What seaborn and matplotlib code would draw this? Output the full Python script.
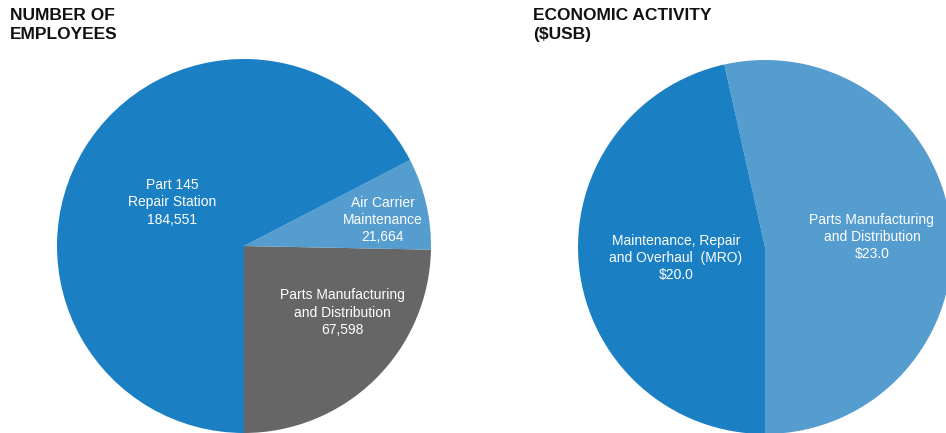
import numpy as np
import matplotlib
matplotlib.use("Agg")
import matplotlib.pyplot as plt
import seaborn as sns

sns.set_theme(style="white")
plt.rcParams['font.family'] = ['Liberation Sans', 'DejaVu Sans']

# Data
emp_labels = ["Parts Manufacturing\nand Distribution", "Air Carrier\nMaintenance", "Part 145\nRepair Station"]
emp_values = [67598, 21664, 184551]
emp_colors = ["#666666", "#559ccf", "#1a7fc3"]

eco_labels = ["Parts Manufacturing\nand Distribution", "Maintenance, Repair\nand Overhaul  (MRO)"]
eco_values = [23.0, 20.0]
eco_colors = ["#559ccf", "#1a7fc3"]

W, H = 946, 433
fig = plt.figure(figsize=(W / 100, H / 100), dpi=100)
fig.patch.set_facecolor("white")

def add_pie_axes(cx, cy, r):
    # cx, cy in pixels from top-left
    ax = fig.add_axes([(cx - r) / W, (H - cy - r) / H, 2 * r / W, 2 * r / H])
    ax.axis("off")
    return ax

def draw(ax, values, labels, colors, fmt, dists, shifts):
    wedges, _ = ax.pie(values, colors=colors, startangle=-90, counterclock=True,
                       radius=1.0, wedgeprops=dict(linewidth=0))
    ax.set_xlim(-1, 1)
    ax.set_ylim(-1, 1)
    ax.set_aspect("equal")
    for w, v, lab, d, s in zip(wedges, values, labels, dists, shifts):
        w.set_clip_on(False)
        ang = np.deg2rad((w.theta1 + w.theta2) / 2 + s)
        ax.text(d * np.cos(ang), d * np.sin(ang), lab + "\n" + fmt(v),
                ha="center", va="center", color="white", fontsize=10,
                linespacing=1.3)

ax1 = add_pie_axes(244, 246, 187)
draw(ax1, emp_values, emp_labels, emp_colors, lambda v: f"{v:,.0f}",
     dists=[0.635, 0.756, 0.45], shifts=[11.5, -2.6, 0])

ax2 = add_pie_axes(765, 247, 187)
draw(ax2, eco_values, eco_labels, eco_colors, lambda v: f"${v:.1f}",
     dists=[0.574, 0.48], shifts=[-1, 0.7])

fig.text(10 / W, 1 - 8 / H, "NUMBER OF\nEMPLOYEES", ha="left", va="top",
         fontsize=12.5, fontweight="bold", color="#111111", linespacing=1.3)
fig.text(533 / W, 1 - 8 / H, "ECONOMIC ACTIVITY\n($USB)", ha="left", va="top",
         fontsize=12.5, fontweight="bold", color="#111111", linespacing=1.3)

fig.savefig("out.png", dpi=100, facecolor="white")
